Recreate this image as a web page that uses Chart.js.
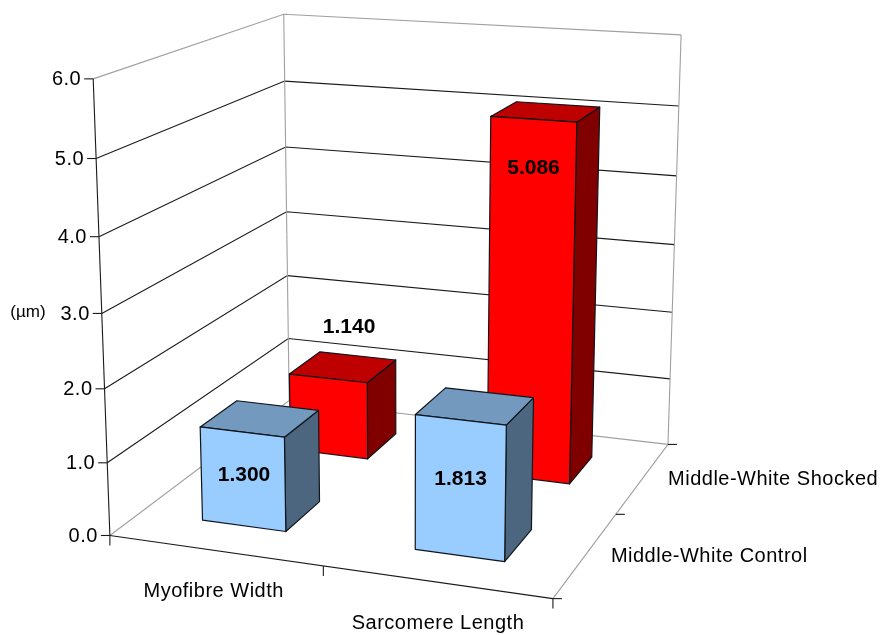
<!DOCTYPE html>
<html><head><meta charset="utf-8">
<style>html,body{margin:0;padding:0;background:#fff}canvas{display:block}</style>
<script src="https://cdn.jsdelivr.net/npm/chart.js@4"></script>
</head><body><canvas id="c" width="883" height="635"></canvas>
<script>
const categories = ['Myofibre Width', 'Sarcomere Length'];
const seriesNames = ['Middle-White Control', 'Middle-White Shocked'];
const controlValues = [1.300, 1.813];
const shockedValues = [1.140, 5.086];
const unitLabel = '(\u00b5m)';

// Camera: where the corners of the unit plot box appear on the page. [X, Y, Z, px, py]
const boxCorners = [
  [0,0,0,110,535],[0,1,0,93,79],[0,0,1,289,401],[0,1,1,284,14],
  [1,0,1,668,444],[1,1,1,681,35],[1,0,0,553,599]
];
const barFraction = 0.4, depthFraction = 0.39;
const labelShift = [[[2,43],[0,59]],[[21,-51],[0,49]]];
const FONT = '"Liberation Sans", Arial, sans-serif';

function solveCamera(pts){
  const n=11, A=Array.from({length:n},()=>new Array(n+1).fill(0));
  const add=(r,b)=>{for(let i=0;i<n;i++){for(let j=0;j<n;j++)A[i][j]+=r[i]*r[j];A[i][n]+=r[i]*b;}};
  for(const [X,Y,Z,px,py] of pts){
    const u=px/1000,v=py/1000;
    add([X,Y,Z,1,0,0,0,0,-u*X,-u*Y,-u*Z],u);
    add([0,0,0,0,X,Y,Z,1,-v*X,-v*Y,-v*Z],v);
  }
  for(let i=0;i<n;i++){
    let m=i;for(let k=i+1;k<n;k++)if(Math.abs(A[k][i])>Math.abs(A[m][i]))m=k;
    [A[i],A[m]]=[A[m],A[i]];
    for(let k=0;k<n;k++){if(k===i)continue;const f=A[k][i]/A[i][i];for(let j=i;j<=n;j++)A[k][j]-=f*A[i][j];}
  }
  return A.map((r,i)=>r[n]/r[i]);
}
const P=solveCamera(boxCorners);
function proj(X,Y,Z){
  const w=P[8]*X+P[9]*Y+P[10]*Z+1;
  return [1000*(P[0]*X+P[1]*Y+P[2]*Z+P[3])/w,1000*(P[4]*X+P[5]*Y+P[6]*Z+P[7])/w];
}
function line(ctx,pts,color){
  ctx.beginPath();pts.forEach((p,i)=>i?ctx.lineTo(p[0],p[1]):ctx.moveTo(p[0],p[1]));
  ctx.strokeStyle=color;ctx.lineWidth=1.1;ctx.stroke();
}
function face(ctx,pts,fill){
  ctx.beginPath();pts.forEach((p,i)=>i?ctx.lineTo(p[0],p[1]):ctx.moveTo(p[0],p[1]));ctx.closePath();
  ctx.fillStyle=fill;ctx.fill();ctx.strokeStyle='#10151c';ctx.lineWidth=1.2;ctx.lineJoin='round';ctx.stroke();
}
function text(ctx,s,x,y,font,align,spacing){
  ctx.font=font;ctx.letterSpacing=(spacing||0)+'px';ctx.fillStyle='#000';ctx.textAlign=align;ctx.textBaseline='middle';ctx.fillText(s,x,y);
}
const normX=(chart,px)=>(px-chart.scales.x.left)/chart.scales.x.width;
const normY=(chart,px)=>(chart.scales.y.bottom-px)/chart.scales.y.height;
const AXIS_FONT='20px '+FONT, AXIS_SPACING=0.5;

const box3d={
  id:'box3d',
  beforeDatasetsDraw(chart){
    const ctx=chart.ctx,ys=chart.scales.y,xs=chart.scales.x;
    ctx.save();
    const GRAY='#a0a0a0',DARK='#1a1a1a';
    ys.ticks.forEach((t,i)=>{
      const Y=normY(chart,ys.getPixelForValue(t.value));
      const a=proj(0,Y,0),b=proj(0,Y,1),c=proj(1,Y,1);
      const edge=(i===0||i===ys.ticks.length-1);
      line(ctx,[a,b,c],edge?GRAY:DARK);
      line(ctx,[[a[0]-9,a[1]],a],DARK);
      text(ctx,ys.ticks[i].value.toFixed(1),a[0]-12,a[1]+1,AXIS_FONT,'right',AXIS_SPACING);
    });
    line(ctx,[proj(0,0,1),proj(0,1,1)],GRAY);
    line(ctx,[proj(1,0,1),proj(1,1,1)],GRAY);
    line(ctx,[proj(1,0,0),proj(1,0,1)],GRAY);
    line(ctx,[proj(0,0,0),proj(0,1,0)],DARK);
    line(ctx,[proj(0,0,0),proj(1,0,0)],DARK);
    const nc=categories.length,ns=seriesNames.length;
    for(let i=0;i<=nc;i++){const p=proj(i/nc,0,0);line(ctx,[p,[p[0],p[1]+10]],DARK);}
    for(let i=0;i<=ns;i++){const p=proj(1,0,i/ns);line(ctx,[p,[p[0]+9,p[1]]],DARK);}
    categories.forEach((c,i)=>{
      const p=proj(normX(chart,xs.getPixelForValue(i)),0,0);
      text(ctx,c,p[0]+(i?2:-1),p[1]+(i?42:41),AXIS_FONT,'center',AXIS_SPACING);
    });
    seriesNames.forEach((s,i)=>{
      const p=proj(1,0,(i+.5)/ns);
      text(ctx,s,p[0]+25,p[1]+2,AXIS_FONT,'left',AXIS_SPACING);
    });
    text(ctx,unitLabel,28,312,'17px '+FONT,'center');
    ctx.restore();
  },
  beforeDatasetDraw(chart,args){
    const ctx=chart.ctx,ds=chart.data.datasets[args.index],ns=chart.data.datasets.length;
    const zc=(args.index+.5)/ns,dz=depthFraction/ns/2;
    ctx.save();
    args.meta.data.forEach(el=>{
      const x0=normX(chart,el.x-el.width/2),x1=normX(chart,el.x+el.width/2);
      const y1=normY(chart,el.y),y0=normY(chart,el.base);
      const z0=zc-dz,z1=zc+dz;
      face(ctx,[proj(x1,y0,z0),proj(x1,y0,z1),proj(x1,y1,z1),proj(x1,y1,z0)],ds.sideColor);
      face(ctx,[proj(x0,y1,z0),proj(x1,y1,z0),proj(x1,y1,z1),proj(x0,y1,z1)],ds.topColor);
      face(ctx,[proj(x0,y0,z0),proj(x1,y0,z0),proj(x1,y1,z0),proj(x0,y1,z0)],ds.backgroundColor);
    });
    ctx.restore();
    return false;
  },
  afterDatasetsDraw(chart){
    const ctx=chart.ctx,ns=chart.data.datasets.length;
    ctx.save();
    chart.data.datasets.forEach((ds,d)=>{
      const z0=(d+.5)/ns-depthFraction/ns/2;
      chart.getDatasetMeta(d).data.forEach((el,i)=>{
        const p=proj(normX(chart,el.x),normY(chart,el.y),z0),s=labelShift[d][i];
        text(ctx,ds.data[i].toFixed(3),p[0]+s[0],p[1]+s[1],'bold 21px '+FONT,'center');
      });
    });
    ctx.restore();
  }
};

new Chart(document.getElementById('c'),{
  type:'bar',
  data:{labels:categories,datasets:[
    {label:seriesNames[0],data:controlValues,backgroundColor:'#99ccff',topColor:'#7399bf',sideColor:'#4d6680',grouped:false},
    {label:seriesNames[1],data:shockedValues,backgroundColor:'#ff0000',topColor:'#bf0000',sideColor:'#800000',grouped:false}
  ]},
  options:{
    responsive:false,animation:false,
    layout:{padding:0},
    datasets:{bar:{categoryPercentage:barFraction,barPercentage:1}},
    plugins:{legend:{display:false},tooltip:{enabled:false},title:{display:false}},
    scales:{
      x:{type:'category',display:false,grid:{display:false}},
      y:{type:'linear',display:false,min:0,max:6,ticks:{stepSize:1},grid:{display:false}}
    }
  },
  plugins:[box3d]
});
</script></body></html>
